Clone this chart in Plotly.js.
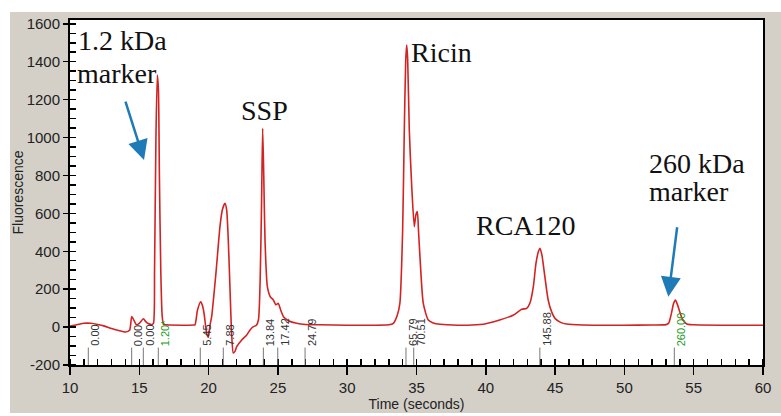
<!DOCTYPE html>
<html>
<head>
<meta charset="utf-8">
<script src="https://cdn.plot.ly/plotly-3.0.1.min.js"></script>
<style>
  html, body { margin: 0; padding: 0; background: #ffffff; width: 781px; height: 416px; overflow: hidden; }
  #chart { position: absolute; left: 10px; top: 12px; width: 771px; height: 401px; }
</style>
</head>
<body>
<div id="chart"></div>
<script>
// Electropherogram trace (time in seconds, fluorescence)
const timeSec = [10.0, 10.5, 11.0, 11.5, 12.0, 12.5, 13.0, 13.5, 14.0, 14.3, 14.45, 14.55, 14.8, 15.0, 15.3, 15.45, 15.6, 15.9,
  16.02, 16.1, 16.2, 16.3, 16.38, 16.45, 16.55, 16.65, 16.75, 17.0, 18.0, 18.9, 19.02, 19.2, 19.43, 19.55, 19.67, 19.86, 19.98,
  20.1, 20.22, 20.53, 20.82, 20.99, 21.18, 21.3, 21.42, 21.54, 21.66, 21.78, 21.9, 22.03, 22.39, 22.75, 22.99, 23.23, 23.45,
  23.6, 23.72, 23.82, 23.9, 23.98, 24.07, 24.24, 24.45, 24.67, 24.85, 25.03, 25.2, 25.4, 25.8, 26.35, 27.0, 28.0, 30.0, 33.0,
  33.33, 33.6, 33.8, 34.0, 34.12, 34.22, 34.29, 34.36, 34.48, 34.65, 34.84, 34.95, 35.06, 35.15, 35.25, 35.49, 35.85, 36.2,
  36.7, 38.0, 39.0, 40.0, 41.0, 42.0, 42.59, 42.95, 43.2, 43.43, 43.62, 43.8, 43.91, 44.05, 44.2, 44.5, 44.75, 44.99, 45.4,
  45.83, 47.0, 50.0, 52.0, 53.0, 53.2, 53.4, 53.55, 53.68, 53.82, 54.0, 54.2, 54.5, 55.0, 57.0, 60.0];
const fluorescence = [5, 12, 20, 20, 14, 5, -8, -18, -26, -17, 55, 45, 12, 20, 44, 30, 20, 14,
  20, 300, 1000, 1330, 1250, 800, 300, 60, 15, 12, 10, 11, 12, 90, 134, 115, 73, -33, -54,
  10, 55, 285, 530, 618, 653, 620, 459, 213, -31, -137, -128, -103, -68, -42, -15, 2, 10,
  40, 250, 650, 1049, 800, 459, 213, 160, 143, 118, 125, 90, 55, 32, 20, 14, 12, 10, 12,
  20, 60, 125, 512, 1040, 1400, 1488, 1420, 1040, 750, 530, 590, 609, 500, 371, 125, 37, 22,
  15, 10, 11, 18, 37, 64, 94, 99, 130, 213, 336, 400, 416, 380, 301, 143, 80, 46, 25,
  16, 11, 10, 11, 13, 22, 75, 125, 143, 120, 80, 40, 16, 12, 10, 10];

// Peak time labels drawn by the instrument software
const peakTimes  = [11.32, 14.45, 15.29, 16.37, 19.4, 21.06, 23.95, 24.99, 26.96, 34.24, 34.8, 43.9, 53.6];
const peakLabels = ['0.00', '0.00', '0.00', '1.20*', '5.45', '7.88', '13.84', '17.42', '24.79', '65.79', '70.51', '145.88', '260.00'];
const markerPeaks = ['1.20*', '260.00'];

// Axis ticks
const yTickVals = [-200, 0, 200, 400, 600, 800, 1000, 1200, 1400, 1600];
const yTickText = ['-200', '0', '200', '400', '600', '800', '1000', '1200', '1400', '1600'];

// Peak names
const peakNames = [
  {text: '1.2 kDa', x: 10.5, y: 1514},
  {text: 'marker', x: 10.43, y: 1340},
  {text: 'SSP', x: 22.27, y: 1145},
  {text: 'Ricin', x: 34.53, y: 1446},
  {text: 'RCA120', x: 39.22, y: 538},
  {text: '260 kDa', x: 51.7, y: 862},
  {text: 'marker', x: 51.7, y: 716}
];

const labelBase = -105;
const annotations = [];
const shapes = [];

peakTimes.forEach((t, i) => {
  const green = markerPeaks.includes(peakLabels[i]);
  annotations.push({
    x: t, y: labelBase, xref: 'x', yref: 'y', text: peakLabels[i], showarrow: false,
    textangle: -90, xanchor: 'left', yanchor: 'bottom', borderpad: 0,
    font: {family: 'Liberation Sans, Arial, sans-serif', size: 11, color: green ? '#1e9a1e' : '#333333'}
  });
  shapes.push({type: 'line', xref: 'x', yref: 'y', x0: t, x1: t, y0: -200, y1: labelBase - 3,
    line: {color: '#777777', width: 1}});
});

peakNames.forEach(p => {
  annotations.push({
    x: p.x, y: p.y, xref: 'x', yref: 'y', text: p.text, showarrow: false,
    xanchor: 'left', yanchor: 'middle', borderpad: 0,
    font: {family: 'Liberation Serif, Times New Roman, serif', size: 28, color: '#111111'}
  });
});

// Blue arrows pointing at the size markers
annotations.push({x: 15.34, y: 881, xref: 'x', yref: 'y', text: '', showarrow: true,
  ax: -19, ay: -60, arrowhead: 2, arrowsize: 1.6, arrowwidth: 2.5, arrowcolor: '#1f7ab8', standoff: 0});
annotations.push({x: 53.17, y: 160, xref: 'x', yref: 'y', text: '', showarrow: true,
  ax: 9, ay: -71, arrowhead: 2, arrowsize: 1.6, arrowwidth: 2.5, arrowcolor: '#1f7ab8', standoff: 0});

const trace = {
  x: timeSec, y: fluorescence, type: 'scatter', mode: 'lines',
  line: {color: '#d42222', width: 1.6, shape: 'spline', smoothing: 0.6},
  hoverinfo: 'skip'
};

const layout = {
  width: 771, height: 401,
  margin: {l: 60, r: 18, t: 8, b: 48},
  paper_bgcolor: '#d4d0c8',
  plot_bgcolor: '#ffffff',
  showlegend: false,
  font: {family: 'Liberation Sans, Arial, sans-serif', color: '#222222', size: 14},
  xaxis: {
    range: [10, 60], tick0: 10, dtick: 5, ticks: 'outside', ticklen: 8, tickwidth: 1.5, tickcolor: '#000',
    showline: true, linecolor: '#000', linewidth: 2, mirror: true, showgrid: false, zeroline: false,
    minor: {dtick: 1, tick0: 10, ticks: 'inside', ticklen: 6, tickwidth: 1.5, tickcolor: '#000', showgrid: false},
    tickfont: {size: 15, color: '#222'},
    title: {text: 'Time (seconds)', font: {size: 14, color: '#222'}, standoff: 2}
  },
  yaxis: {
    range: [-200, 1620], tickmode: 'array', tickvals: yTickVals, ticktext: yTickText,
    ticks: 'outside', ticklen: 5, tickwidth: 1.5, tickcolor: '#000',
    showline: true, linecolor: '#000', linewidth: 2, mirror: true, showgrid: false, zeroline: false,
    minor: {tickmode: 'linear', dtick: 50, tick0: 0, ticks: 'inside', ticklen: 6, tickwidth: 1.5, tickcolor: '#000', showgrid: false},
    tickfont: {size: 15, color: '#222'},
    title: {text: 'Fluorescence', font: {size: 14, color: '#222'}, standoff: 8}
  },
  annotations: annotations,
  shapes: shapes
};

Plotly.newPlot('chart', [trace], layout, {displayModeBar: false, staticPlot: true});
</script>
</body>
</html>
